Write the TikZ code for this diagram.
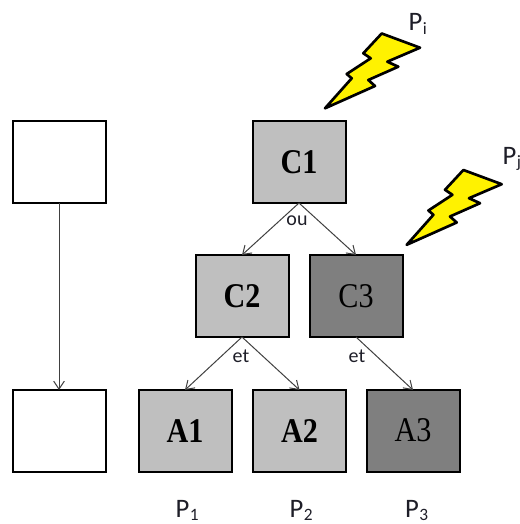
\documentclass[tikz,border=0pt]{standalone}
\usepackage{fontspec}
\setmainfont{Carlito}
\newfontfamily\boxfont[FakeStretch=0.87]{Liberation Serif}
\usetikzlibrary{arrows.meta}

\tikzset{every picture/.style={line width=0.75pt}}
\tikzset{
  block/.style={draw=black, line width=1.5pt, fill=white, minimum width=69.75pt, minimum height=61.5pt, inner sep=0pt, outer sep=0pt, font=\boxfont\fontsize{26}{26}\selectfont},
  lightblock/.style={block, fill={rgb, 255:red, 191; green, 191; blue, 191 }, font=\boxfont\bfseries\fontsize{26}{26}\selectfont},
  darkblock/.style={block, fill={rgb, 255:red, 127; green, 127; blue, 127 }, text=black},
  link/.style={draw={rgb, 255:red, 64; green, 64; blue, 64 }, line width=0.75pt, -{Straight Barb[length=6pt,width=8pt]}},
  bolt/.style={draw=black, line width=2pt, line join=round, fill=yellow},
  gatelabel/.style={inner sep=0pt, text={rgb, 255:red, 30; green, 30; blue, 40 }, font=\fontsize{15}{15}\selectfont},
  proclabel/.style={anchor=base west, inner sep=0pt, text={rgb, 255:red, 30; green, 30; blue, 40 }, font=\fontsize{20}{20}\selectfont}
}
\newcommand{\procname}[1]{P\kern0.5pt\lower2.5pt\hbox{\fontsize{13}{13}\selectfont #1}}

\begin{document}
\begin{tikzpicture}[x=0.75pt,y=0.75pt,yscale=-1,xscale=1]
\useasboundingbox (0,0) rectangle (520,524);

% Left blocks
\node [block] (L1) at (59,162) {};
\node [block] (L2) at (59,431) {};

% Tree blocks
\node [lightblock] (C1) at (299,162) {C1};
\node [lightblock] (C2) at (242,296) {C2};
\node [darkblock] (C3) at (356,296) {C3};
\node [lightblock] (A1) at (185,431) {A1};
\node [lightblock] (A2) at (299.5,431) {A2};
\node [darkblock] (A3) at (413,431) {\raisebox{2pt}{A3}};

% Links
\draw [link] (L1.south) -- (L2.north);
\draw [link] (C1.south) -- (C2.north);
\draw [link] (C1.south) -- (C3.north);
\draw [link] (C2.south) -- (A1.north);
\draw [link] (C2.south) -- (A2.north);
\draw [link] (C3.south) -- (A3.north);

% Lightning bolts
\draw [bolt] (381.7,33.5) -- (420,47.7) -- (387.3,61.7) -- (398.3,66.7) -- (368.3,80) -- (375,86) -- (325,108.3) -- (351.7,78.3) -- (346.7,74) -- (370.7,58.3) -- (363.3,53.3) -- cycle ;
\draw [bolt] (463.4,170) -- (501.7,184.2) -- (469,198.2) -- (480,203.2) -- (450,216.5) -- (456.7,222.5) -- (406.7,244.8) -- (433.4,214.8) -- (428.4,210.5) -- (452.4,194.8) -- (445,189.8) -- cycle ;

% Text Node
\node [gatelabel] (ou) at (297,221) {ou};
\node [gatelabel] (et1) at (241,356) {et};
\node [gatelabel] (et2) at (357,356) {et};
\node [proclabel] (Pi) at (408,31) {\procname{i}};
\node [proclabel] (Pj) at (502,164) {\procname{j}};
\node [proclabel] (P1) at (175,517) {\procname{1}};
\node [proclabel] (P2) at (289,517) {\procname{2}};
\node [proclabel] (P3) at (404.5,517) {\procname{3}};

\end{tikzpicture}
\end{document}
